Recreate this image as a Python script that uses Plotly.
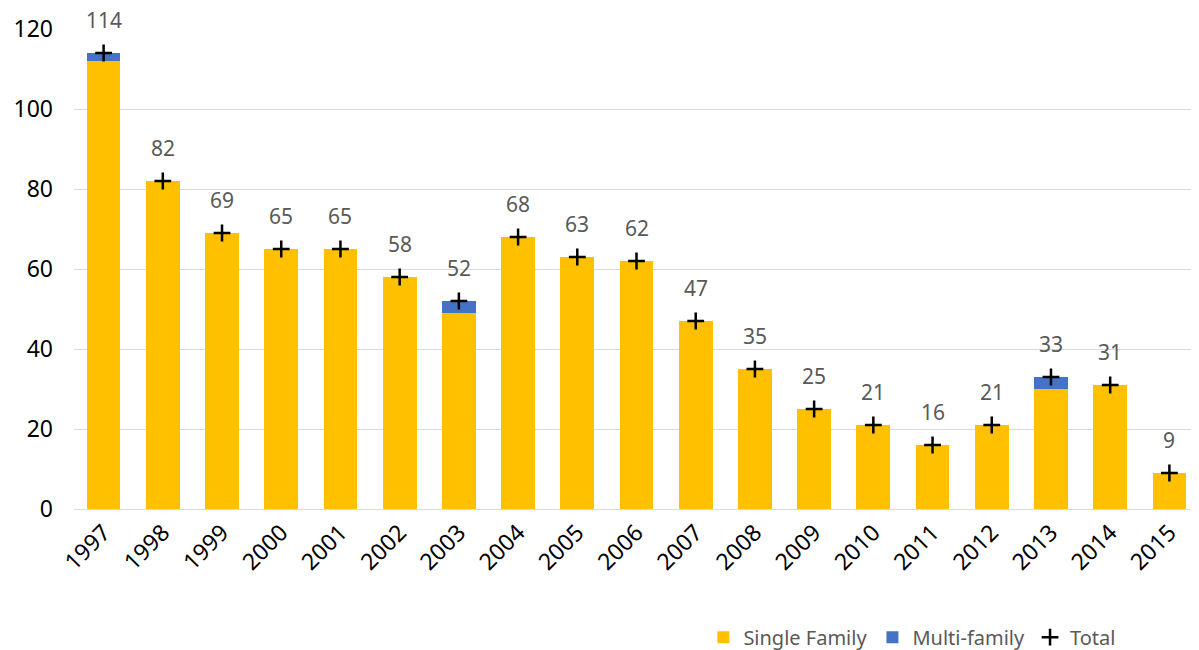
import plotly.graph_objects as go

years = [str(y) for y in range(1997, 2016)]
single_family = [112, 82, 69, 65, 65, 58, 49, 68, 63, 62, 47, 35, 25, 21, 16, 21, 30, 31, 9]
multi_family = [2, 0, 0, 0, 0, 0, 3, 0, 0, 0, 0, 0, 0, 0, 0, 0, 3, 0, 0]
totals = [114, 82, 69, 65, 65, 58, 52, 68, 63, 62, 47, 35, 25, 21, 16, 21, 33, 31, 9]

FONT = "Noto Sans"
GRAY = "#595959"

fig = go.Figure()
fig.add_trace(go.Bar(x=years, y=single_family, name="Single Family",
                     marker=dict(color="#FFC000", line=dict(width=0))))
fig.add_trace(go.Bar(x=years, y=multi_family, name="Multi-family",
                     marker=dict(color="#4472C4", line=dict(width=0))))
fig.add_trace(go.Scatter(x=years, y=totals, name="Total", mode="markers",
                         marker=dict(symbol="cross-thin", size=12, color="black",
                                     line=dict(width=2.5, color="black")),
                         cliponaxis=False))

for i, t in enumerate(totals):
    fig.add_annotation(x=i, y=t, xref="x", yref="y", text=str(t), showarrow=False,
                       yshift=33, font=dict(family=FONT, size=21, color=GRAY))

fig.update_layout(
    barmode="stack",
    bargap=0.43,
    width=1191, height=642,
    margin=dict(l=66, r=0, t=21, b=141, autoexpand=False),
    plot_bgcolor="white", paper_bgcolor="white",
    font=dict(family=FONT, size=18, color="black"),
    legend=dict(orientation="h", x=0.931, xanchor="right", y=-0.267, yanchor="middle",
                font=dict(family=FONT, size=20, color=GRAY), itemwidth=30,
                traceorder="normal"),
    showlegend=True,
)
fig.update_yaxes(range=[0, 120], dtick=20, showgrid=True, gridcolor="#d9d9d9",
                 gridwidth=1, zeroline=False, showline=False,
                 tickfont=dict(family=FONT, size=23, color="black"),
                 ticklabelstandoff=20)
fig.update_xaxes(type="category", range=[-0.5, len(years) - 0.5],
                 showline=True, linecolor="#d9d9d9", linewidth=1,
                 tickangle=-45, tickfont=dict(family=FONT, size=23, color="black"),
                 ticks="")

fig.write_html("out.html")
